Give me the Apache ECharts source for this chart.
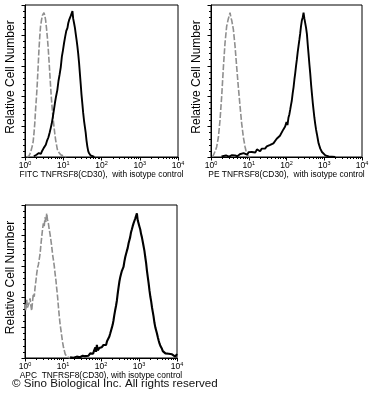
<!DOCTYPE html>
<html><head><meta charset="utf-8">
<script src="https://cdn.jsdelivr.net/npm/echarts@6/dist/echarts.min.js"></script>
<style>html,body{margin:0;padding:0;background:#fff}#c{width:370px;height:400px}</style>
</head><body><div id="c"></div>
<script>
// ---- data: [fluorescence intensity, relative cell number (% of panel max)] ----
const fitcIso = [[1.1,0],[1.26,0.5],[1.4,3],[1.54,7],[1.63,10],[1.71,15],[1.8,22],[1.89,31],[2.0,40],[2.09,48],[2.2,59],[2.31,70],[2.43,79],[2.55,86],[2.7,90],[2.83,93],[2.98,94],[3.13,95],[3.3,93],[3.46,90],[3.64,85],[3.83,79],[4.03,72],[4.23,64],[4.45,55],[4.68,46],[4.92,38],[5.18,31],[5.45,25],[5.73,20],[6.03,15],[6.34,11],[6.67,8],[7.0,5],[7.7,3],[8.6,1.5],[10.5,0.5],[12,0]];
const fitcCD30 = [[1.7,0.5],[2.0,1.5],[2.3,2.6],[2.6,2],[2.8,4],[3.1,6],[3.3,5],[3.5,8],[3.8,11],[4.1,13],[4.4,16],[4.7,19],[5.0,22],[5.4,27],[5.7,31],[6.1,36],[6.5,40],[7.0,44],[7.5,50],[8.0,54],[8.6,59],[9.2,66],[9.8,70],[10.5,75],[11.2,79],[12.0,83],[12.9,85],[13.5,88],[14.2,90],[15.0,89],[15.8,93],[16.6,92],[17.4,96],[18.2,91],[19.2,88],[20.2,85],[21.2,81],[22.3,77],[23.4,73],[24.6,68],[25.9,62],[27.2,55],[28.6,48],[30.0,41],[31.6,35],[33.2,29],[34.9,24],[36.7,20],[38.6,16],[40.5,11],[42.6,7],[44.8,4],[47,2.6],[52,1],[58,0.5],[65,0]];
const peIso = [[1.1,0],[1.15,1],[1.3,4],[1.41,6.6],[1.57,13],[1.73,24],[1.92,40],[2.13,59],[2.35,75],[2.6,86],[2.88,91],[3.05,93],[3.19,95],[3.35,92],[3.53,90],[3.91,84],[4.33,73],[4.8,59],[5.3,46],[5.9,33],[6.5,22],[7.2,13],[8.0,6.6],[8.8,2.2],[9.8,0.5],[11,0]];
const peCD30 = [[1.9,0.4],[2.5,1],[3.0,0.3],[3.6,1.2],[4.3,1.1],[5,0.5],[5.8,1.8],[6.5,1],[7.3,2.5],[8,2.2],[9,1.5],[10,3.2],[11,2.5],[12,3.3],[13.5,4.5],[15,3],[16.5,5],[18.1,4.4],[20,3.8],[22,5.5],[24.5,4.8],[27,5.5],[30,7],[33,6],[37,8],[41,7.7],[45,9],[50,10],[55,12],[61,11],[67,14],[75,15],[82,18],[92,20],[100,23],[106,21],[113,26],[119,28],[125,31],[131,34],[138,37],[146,42],[154,46],[162,51],[170,55],[179,60],[188,64],[198,69],[208,73],[219,77],[230,81],[242,86],[256,90],[270,92],[283,95],[298,91],[314,90],[330,85],[347,81],[365,74],[383,68],[404,61],[425,55],[447,48],[470,42],[495,36],[520,31],[547,26],[575,22],[607,18],[640,15],[673,12],[707,9],[785,5.5],[870,3.3],[960,2],[1070,1.1],[1310,0.4],[1960,0]];
const apcIso = [[1.0,35],[1.05,31],[1.11,38],[1.16,33],[1.22,33],[1.28,36],[1.36,39],[1.43,34],[1.5,31],[1.58,37],[1.66,42],[1.75,40],[1.84,46],[1.93,50],[2.03,55],[2.14,59],[2.25,61],[2.37,62],[2.49,68],[2.62,74],[2.75,79],[2.89,84],[3.04,88],[3.2,86],[3.37,92],[3.55,89],[3.73,94.5],[3.92,90],[4.12,88],[4.34,84],[4.56,81],[4.8,77],[5.05,73],[5.3,68],[5.6,64],[5.9,60],[6.2,55],[6.5,51],[6.8,46],[7.2,40],[7.6,33],[8.0,27],[8.4,22],[8.85,18],[9.3,14],[9.8,10],[10.3,7],[10.8,5],[11.4,2.6],[12.6,0.9],[15.4,0]];
const apcCD30 = [[15.4,0.4],[19,0.2],[23,0.9],[28,0.5],[33,1.5],[38,1.2],[42,2.2],[47,1.5],[52,3],[57,3.7],[62,2.8],[66,5],[71,7],[74,4],[78,8.5],[82,5],[85,4.8],[90,6.5],[95,5.5],[104,7],[110,6],[116,8.5],[122,7.5],[129,9.2],[136,8.5],[144,11],[150,10],[158,11.4],[166,14],[174,15.8],[184,18],[194,20],[204,22],[213,24.5],[224,28],[235,31],[248,34],[262,37.6],[275,42],[289,46],[305,50],[322,53],[338,55],[355,57],[372,58],[391,59.5],[412,63],[435,66],[456,68],[479,70],[505,72],[532,75],[558,77],[586,79],[615,82],[647,84],[680,86],[718,88],[755,89],[792,91],[835,92],[880,94.5],[925,90],[975,88],[1025,86],[1080,84],[1135,81],[1190,79],[1255,76],[1320,73],[1390,70],[1460,66],[1540,62],[1620,57],[1700,53],[1790,49],[1890,44],[1990,40],[2090,37],[2200,33],[2310,30],[2420,27],[2550,23],[2690,20],[2830,18],[2970,16],[3130,13.5],[3290,11.4],[3460,9.5],[3640,8],[3830,7],[4020,6],[4230,4.5],[4450,3.7],[4950,3],[5470,2.2],[6050,2.8],[6660,1.5],[7400,2.4],[8170,2.2],[9000,0.9],[10000,2.6]];

const xNames = ['FITC TNFRSF8(CD30),  with isotype control', 'PE TNFRSF8(CD30),  with isotype control', 'APC  TNFRSF8(CD30), with isotype control'];
const yName = 'Relative Cell Number';
const xRange = [1, 10000];
const yRange = [0, 100];
const copyright = '\u00A9 Sino Biological Inc. All rights reserved';

const FONT = 'Liberation Sans';
const grids = [
  {left: 25, top: 5, width: 153, height: 152},
  {left: 211, top: 5, width: 151, height: 152},
  {left: 25, top: 205, width: 152, height: 153}
];
const xAxes = [], yAxes = [];
grids.forEach((g, i) => {
  xAxes.push({
    gridIndex: i, type: 'log', logBase: 10, min: xRange[0], max: xRange[1],
    axisLine: {lineStyle: {color: '#000', width: 1}},
    axisTick: {length: 3.5, lineStyle: {color: '#000'}},
    minorTick: {show: true, splitNumber: 9, length: 2, lineStyle: {color: '#000'}},
    splitLine: {show: false},
    axisLabel: {
      margin: 3, color: '#000',
      formatter: v => '{b|10}{s|' + Math.round(Math.log10(v)) + '}',
      rich: {b: {fontSize: 8.5, fontFamily: FONT, color: '#000', lineHeight: 10, verticalAlign: 'bottom'},
             s: {fontSize: 5.5, fontFamily: FONT, color: '#000', lineHeight: 10, verticalAlign: 'top', padding: [0,0,4,0]}}
    },
    name: xNames[i], nameLocation: 'middle', nameGap: 9.5,
    nameTextStyle: {fontSize: 8.4, fontFamily: FONT, color: '#000'}
  });
  yAxes.push({
    gridIndex: i, type: 'value', min: yRange[0], max: yRange[1], interval: 20,
    axisLine: {show: true, lineStyle: {color: '#000', width: 1}},
    axisTick: {show: true, length: 3.5, lineStyle: {color: '#000'}},
    minorTick: {show: true, splitNumber: 5, length: 2, lineStyle: {color: '#000'}},
    splitLine: {show: false},
    axisLabel: {show: false},
    name: yName, nameLocation: 'middle', nameGap: 8,
    nameTextStyle: {fontSize: 12, fontFamily: FONT, color: '#000', padding: [0, 0, 0, 8]}
  });
});
grids.forEach(g => { g.show = true; g.borderColor = '#000'; g.borderWidth = 1; g.containLabel = false; g.outerBoundsMode = 'none'; });

const isoStyle = {color: '#8f8f8f', width: 1.6, type: [6, 2]};
const posStyle = {color: '#000', width: 1.9};
function s(data, idx, style) {
  return {type: 'line', data: data, xAxisIndex: idx, yAxisIndex: idx, showSymbol: false, symbol: 'none',
    lineStyle: style, animation: false, silent: true, z: style.color === '#000' ? 3 : 2};
}
const chart = echarts.init(document.getElementById('c'), null, {renderer: 'canvas'});
chart.setOption({
  backgroundColor: '#fff',
  animation: false,
  title: {text: copyright, left: 12, top: 377.5, padding: 0, textStyle: {fontSize: 11.6, fontWeight: 'normal', fontFamily: FONT, color: '#111'}},
  grid: grids, xAxis: xAxes, yAxis: yAxes,
  series: [
    s(fitcIso, 0, isoStyle), s(fitcCD30, 0, posStyle),
    s(peIso, 1, isoStyle), s(peCD30, 1, posStyle),
    s(apcIso, 2, isoStyle), s(apcCD30, 2, Object.assign({}, posStyle, {width: 2.1}))
  ]
});
</script></body></html>
